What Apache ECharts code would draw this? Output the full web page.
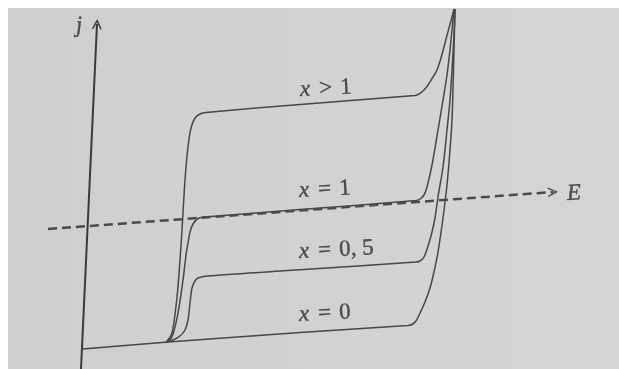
<!DOCTYPE html>
<html>
<head>
<meta charset="utf-8">
<script src="https://cdn.jsdelivr.net/npm/echarts@6/dist/echarts.min.js"></script>
<style>
  html, body { margin: 0; padding: 0; background: #ffffff; }
  #chart { width: 619px; height: 369px; }
</style>
</head>
<body>
<div id="chart"></div>
<script>
// Current density j against potential E for several compositions x.
// Each curve is a list of [E, j] pairs in drawing units.
const curveX0 = [
  [83, 20], [168, 27], [300, 36.5], [408, 43.5], [412, 44.5], [416, 48], [420, 56],
  [425, 67], [430, 81], [434, 97], [438, 117], [443, 151], [447, 184], [450, 219],
  [452, 249], [453.5, 299], [455, 360]
];
const curveX05 = [
  [166, 26.5], [173, 29], [180, 33], [185, 39], [188, 49], [190, 66], [192, 81],
  [195, 88], [198, 91], [207, 93], [300, 99.2], [416, 107], [420, 108], [424, 112],
  [428, 123], [432, 137], [435, 151], [438, 172], [443, 202], [447, 239], [450, 269],
  [452, 299], [454, 334], [455, 360]
];
const curveX1 = [
  [166, 26.5], [172, 32], [178, 56], [183, 89], [186, 114], [188, 126], [190, 137],
  [193, 145], [198, 150.5], [205, 152], [300, 159.5], [416, 168.5], [420, 170],
  [424, 174], [427, 182], [432, 204], [437, 233], [443, 269], [447, 294], [450, 319],
  [452, 339], [454, 360]
];
const curveXgt1 = [
  [166, 26.5], [172, 36], [177, 72], [180, 109], [182, 139], [185, 189], [188, 222],
  [191, 241], [195, 251], [200, 255], [206, 256.5], [300, 264.5], [415, 273.5],
  [419, 275], [424, 279], [428, 284], [433, 292], [437, 299], [441, 311], [445, 326],
  [449, 341], [452, 352], [454, 360]
];

// Axes drawn as arrows: j axis (vertical) and the dashed E axis.
const jAxisLine = [[81, 0], [97, 345]];
const eAxisLine = [[48, 140], [553, 177]];

// Curve captions and axis names: [E, j, text key]
const labelPoints = [
  [300, 279, 'gt1'],
  [299, 178, 'eq1'],
  [299, 117, 'eq05'],
  [299, 54, 'eq0'],
  [76, 343, 'j'],
  [567, 175, 'E']
];
const labelTexts = {
  gt1: '{v|x}{o|>}{n|1}',
  eq1: '{v|x}{o|=}{n|1}',
  eq05: '{v|x}{o|=}{n|0, 5}',
  eq0: '{v|x}{o|=}{n|0}',
  j: '{v|j}',
  E: '{v|E}'
};

const ink = '#474747';
const textInk = '#2f2f2f';
const serif = 'Liberation Serif';

const chevron = 'path://M0,10 L5,0 L10,10 L8.4,10 L5,3.2 L1.6,10 Z';

function curve(name, data) {
  return {
    name: name,
    type: 'line',
    data: data,
    smooth: 0.3,
    showSymbol: false,
    symbol: 'none',
    silent: true,
    lineStyle: { color: ink, width: 1.5 },
    z: 3
  };
}

function textStyle(extra) {
  return Object.assign({
    fontFamily: serif,
    fontSize: 23,
    color: textInk,
    textBorderColor: textInk,
    textBorderWidth: 0.4
  }, extra);
}

const chart = echarts.init(document.getElementById('chart'), null, { renderer: 'canvas' });

chart.setOption({
  animation: false,
  backgroundColor: '#ffffff',
  graphic: [{
    type: 'rect',
    left: 8, top: 8,
    shape: { width: 611, height: 361 },
    style: {
      fill: new echarts.graphic.LinearGradient(0, 0, 1, 0, [
        { offset: 0, color: '#cfcfcd' },
        { offset: 1, color: '#d5d5d3' }
      ])
    },
    z: -10,
    silent: true
  }],
  grid: { left: 0, right: 0, top: 0, bottom: 0 },
  xAxis: { type: 'value', min: 0, max: 619, show: false },
  yAxis: { type: 'value', min: 0, max: 369, show: false },
  series: [
    curve('x = 0', curveX0),
    curve('x = 0,5', curveX05),
    curve('x = 1', curveX1),
    curve('x > 1', curveXgt1),
    {
      name: 'axes',
      type: 'line',
      data: [],
      silent: true,
      markLine: {
        silent: true,
        animation: false,
        label: { show: false },
        emphasis: { disabled: true },
        data: [
          [
            { coord: jAxisLine[0], symbol: 'none',
              lineStyle: { color: '#3a3a3a', width: 2, type: 'solid' } },
            { coord: jAxisLine[1], symbol: chevron, symbolSize: [10, 10] }
          ],
          [
            { coord: eAxisLine[0], symbol: 'none',
              lineStyle: { color: '#4a4a4a', width: 2.5, type: [9, 5] } },
            { coord: eAxisLine[1], symbol: chevron, symbolSize: [10, 10] }
          ]
        ]
      },
      z: 2
    },
    {
      name: 'captions',
      type: 'scatter',
      data: labelPoints,
      symbolSize: 0,
      silent: true,
      label: {
        show: true,
        position: 'inside',
        align: 'left',
        verticalAlign: 'middle',
        rotate: 3,
        formatter: p => labelTexts[p.data[2]],
        rich: {
          v: textStyle({ fontStyle: 'italic' }),
          o: textStyle({ padding: [0, 8, 0, 9] }),
          n: textStyle({})
        }
      },
      z: 5
    }
  ]
});
</script>
</body>
</html>
